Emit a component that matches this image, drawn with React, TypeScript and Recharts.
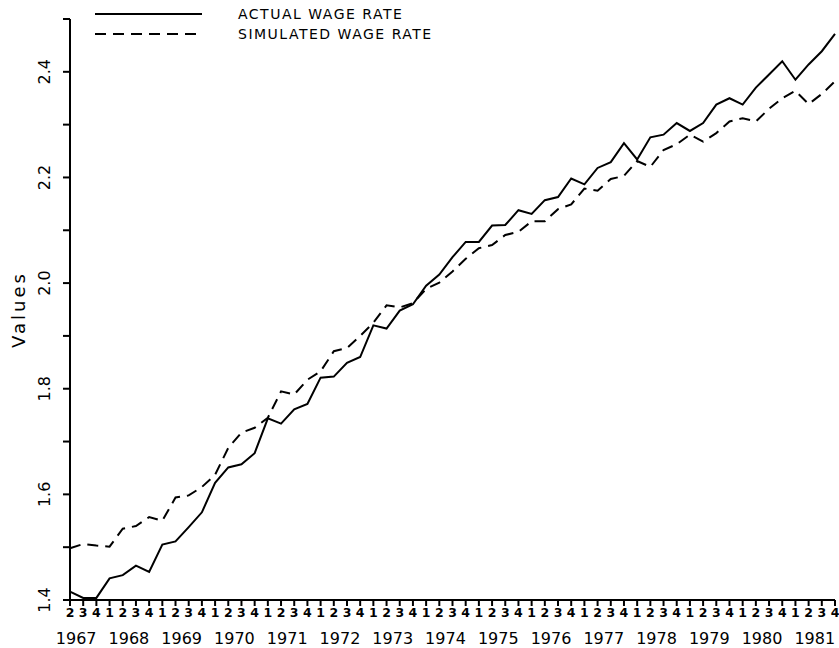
import React from 'react';
import { LineChart, Line, XAxis, YAxis, Legend } from 'recharts';

const years = [1967, 1968, 1969, 1970, 1971, 1972, 1973, 1974, 1975, 1976, 1977, 1978, 1979, 1980, 1981];
const quartersPerYear = [1, 2, 3, 4];
const firstQuarter = 2;

const actualWage = [
  1.416, 1.404, 1.404,
  1.441, 1.447, 1.465, 1.453,
  1.505, 1.511, 1.538, 1.566,
  1.622, 1.651, 1.657, 1.678,
  1.744, 1.734, 1.761, 1.771,
  1.821, 1.823, 1.849, 1.860,
  1.920, 1.914, 1.948, 1.960,
  1.995, 2.016, 2.049, 2.078,
  2.078, 2.109, 2.110, 2.138,
  2.131, 2.157, 2.163, 2.198,
  2.187, 2.218, 2.229, 2.265,
  2.234, 2.276, 2.281, 2.303,
  2.288, 2.303, 2.338, 2.350,
  2.338, 2.370, 2.395, 2.420,
  2.385, 2.414, 2.439, 2.472,
];

const simulatedWage = [
  1.498, 1.506, 1.503,
  1.501, 1.535, 1.540, 1.557,
  1.550, 1.594, 1.598, 1.614,
  1.637, 1.688, 1.717, 1.726,
  1.745, 1.795, 1.789, 1.817,
  1.833, 1.871, 1.877, 1.900,
  1.925, 1.958, 1.954, 1.962,
  1.989, 2.001, 2.022, 2.046,
  2.066, 2.072, 2.091, 2.097,
  2.117, 2.117, 2.140, 2.149,
  2.179, 2.175, 2.197, 2.203,
  2.231, 2.220, 2.252, 2.263,
  2.281, 2.268, 2.284, 2.306,
  2.312, 2.306, 2.330, 2.350,
  2.364, 2.339, 2.358, 2.382,
];

const yTicks = [1.4, 1.5, 1.6, 1.7, 1.8, 1.9, 2.0, 2.1, 2.2, 2.3, 2.4, 2.5];
const yTickLabels = ['1.4', '1.6', '1.8', '2.0', '2.2', '2.4'];

const seriesNames = { actual: 'ACTUAL WAGE RATE', simulated: 'SIMULATED WAGE RATE' };

const periods: { year: number; q: number }[] = [];
years.forEach((y, yi) => {
  quartersPerYear.forEach((q) => {
    if (yi === 0 && q < firstQuarter) return;
    periods.push({ year: y, q });
  });
});

const data = periods.map((p, i) => ({
  idx: i,
  year: p.year,
  q: p.q,
  actual: actualWage[i],
  simulated: simulatedWage[i],
}));

const W = 839;
const H = 648;
const LEFT = 70;
const RIGHT = 4;
const STEP = (W - LEFT - RIGHT) / (data.length - 1);
const FONT = '"DejaVu Sans", sans-serif';
const DASH = '11 7';

const XTick = (props: any) => {
  const { x, y, payload } = props;
  const d = data[payload.value];
  if (!d) return null;
  const showYear = d.q === 1 || payload.value === 0;
  const yx = x - (d.q - 1) * STEP - 1;
  return (
    <g>
      <text x={x} y={y + 11} textAnchor="middle" fontFamily={FONT} fontSize={12.5} fontWeight={600} fill="#000">
        {d.q}
      </text>
      {showYear && (
        <text x={yx} y={y + 38} textAnchor="start" fontFamily={FONT} fontSize={16} fill="#000">
          {d.year}
        </text>
      )}
    </g>
  );
};

const YTick = (props: any) => {
  const { x, y, payload } = props;
  const label = payload.value.toFixed(1);
  if (!yTickLabels.includes(label)) return null;
  const bx = x - 11;
  return (
    <text
      x={bx}
      y={y}
      transform={`rotate(-90, ${bx}, ${y})`}
      textAnchor="middle"
      fontFamily={FONT}
      fontSize={16}
      fill="#000"
    >
      {label}
    </text>
  );
};

const YLabel = (props: any) => {
  const vb = props.viewBox || { x: 0, y: 19, width: 70, height: 581 };
  const bx = vb.x + 25;
  const cy = vb.y + vb.height / 2;
  return (
    <text
      x={bx}
      y={cy}
      transform={`rotate(-90, ${bx}, ${cy})`}
      textAnchor="middle"
      fontFamily={FONT}
      fontSize={18}
      letterSpacing={3}
      fill="#000"
    >
      Values
    </text>
  );
};

const renderLegend = (props: any) => {
  const payload = props.payload || [];
  return (
    <svg width={500} height={45} style={{ display: 'block' }}>
      {payload.map((p: any, i: number) => {
        const cy = 14 + i * 20;
        const dashed = p.dataKey === 'simulated';
        return (
          <g key={p.value}>
            <line
              x1={95}
              x2={202}
              y1={cy}
              y2={cy}
              stroke="#000"
              strokeWidth={2}
              strokeDasharray={dashed ? DASH : undefined}
            />
            <text x={238} y={cy + 5} fontFamily={FONT} fontSize={14} letterSpacing={1.5} fill="#000">
              {p.value}
            </text>
          </g>
        );
      })}
    </svg>
  );
};

export default function App() {
  return (
    <div style={{ position: 'absolute', left: 0, top: 0, width: W, height: H, background: '#fff' }}>
      <LineChart width={W} height={H} data={data} margin={{ top: 19, right: RIGHT, bottom: 0, left: 0 }}>
        <XAxis
          dataKey="idx"
          type="number"
          domain={[0, data.length - 1]}
          ticks={data.map((d) => d.idx)}
          interval={0}
          height={48}
          tickSize={6}
          tickMargin={0}
          tick={<XTick />}
          axisLine={{ stroke: '#000', strokeWidth: 2 }}
          tickLine={{ stroke: '#000', strokeWidth: 2 }}
        />
        <YAxis
          type="number"
          domain={[1.4, 2.5]}
          ticks={yTicks}
          interval={0}
          width={LEFT}
          tickSize={7}
          tickMargin={2}
          tick={<YTick />}
          axisLine={{ stroke: '#000', strokeWidth: 2 }}
          tickLine={{ stroke: '#000', strokeWidth: 2 }}
          label={<YLabel />}
        />
        <Legend
          layout="horizontal"
          verticalAlign="middle"
          align="center"
          wrapperStyle={{ top: 0, left: 0, width: 500, height: 45 }}
          content={renderLegend}
        />
        <Line
          type="linear"
          dataKey="actual"
          name={seriesNames.actual}
          stroke="#000"
          strokeWidth={2}
          dot={false}
          isAnimationActive={false}
        />
        <Line
          type="linear"
          dataKey="simulated"
          name={seriesNames.simulated}
          stroke="#000"
          strokeWidth={2}
          strokeDasharray={DASH}
          dot={false}
          isAnimationActive={false}
        />
      </LineChart>
    </div>
  );
}
